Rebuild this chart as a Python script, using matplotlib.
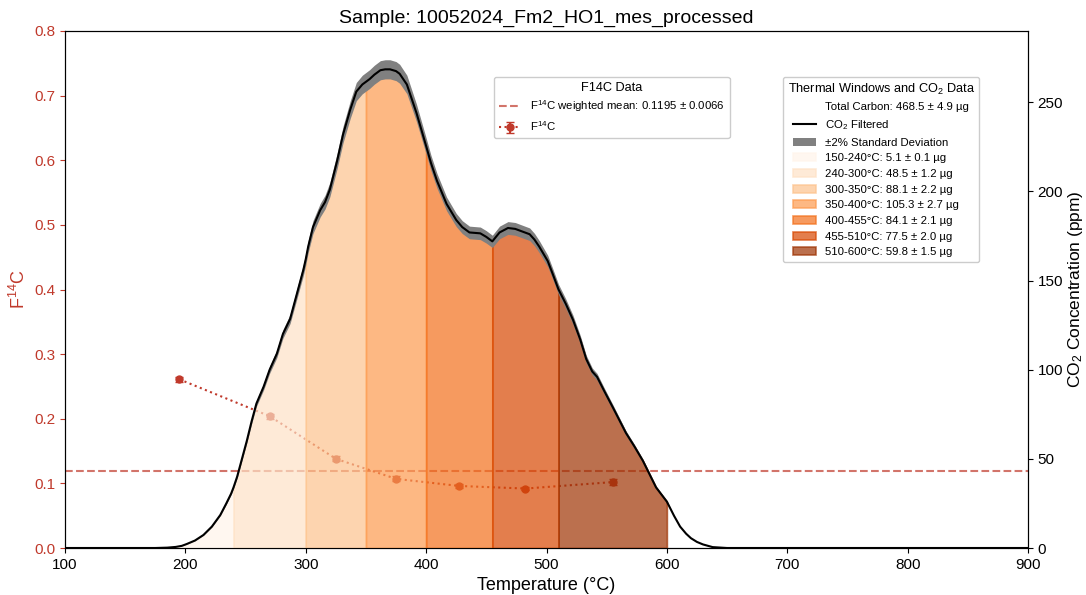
import numpy as np
import matplotlib
matplotlib.use("Agg")
import matplotlib.pyplot as plt
from matplotlib.patches import Patch
from matplotlib.lines import Line2D

plt.rcParams['font.family'] = ['Liberation Sans', 'DejaVu Sans']
plt.rcParams['mathtext.fontset'] = 'custom'
plt.rcParams['mathtext.rm'] = 'Liberation Sans'
plt.rcParams['mathtext.it'] = 'Liberation Sans:italic'
plt.rcParams['mathtext.bf'] = 'Liberation Sans:bold'

# ---- CO2 curve ----
temperature = [100, 150, 175, 185, 192, 197, 201, 208, 215, 222, 229, 234, 238, 240,
               243, 247, 251, 255, 259, 265, 270, 276, 281, 287, 292, 298, 300, 302,
               306, 312, 316, 320, 326, 331, 337, 342, 347, 350, 353, 357, 362, 366,
               370, 375, 378, 384, 392, 400, 404, 409, 417, 425, 430, 436, 445, 450,
               455, 458, 461, 468, 474, 480, 486, 490, 494, 501, 505, 510, 516, 522,
               528, 533, 538, 542, 548, 555, 566, 573, 580, 591, 600, 606, 611, 616,
               620, 625, 630, 638, 650, 700, 900]
co2_ppm = [0, 0, 0, 0.2, 0.6, 1.2, 2.2, 4.2, 7.3, 12, 18.5, 25, 30.5, 34,
           40, 50, 60, 71, 81, 90.5, 100, 109, 120, 128.5, 141, 156, 162, 169,
           180, 189.5, 194, 201, 217, 232, 246, 256, 260, 261.5, 263, 265.5, 268, 268.5,
           268.5, 267.5, 266, 260, 244, 225.5, 216, 206, 193, 184, 180, 177, 176.5, 174.5,
           172, 174.5, 177, 179.5, 179, 177.5, 176, 173, 169, 161, 154, 145, 137, 128,
           117, 106, 99, 96, 88, 79, 64.5, 57, 49, 34, 26, 18, 12, 8,
           5.5, 3.4, 2, 0.5, 0, 0, 0]
std_fraction = 0.02

# ---- thermal windows ----
window_lo = [150, 240, 300, 350, 400, 455, 510]
window_hi = [240, 300, 350, 400, 455, 510, 600]
window_mass = [5.1, 48.5, 88.1, 105.3, 84.1, 77.5, 59.8]
window_err = [0.1, 1.2, 2.2, 2.7, 2.1, 2.0, 1.5]
total_carbon = 468.5
total_carbon_err = 4.9

# ---- F14C ----
f14c_temp = [195, 270, 325, 375, 427.5, 482.5, 555]
f14c_val = [0.261, 0.204, 0.138, 0.107, 0.096, 0.092, 0.102]
f14c_err = [0.004, 0.004, 0.004, 0.004, 0.003, 0.003, 0.004]
f14c_mean = 0.1195
f14c_mean_err = 0.0066

red = '#c0392b'

T = np.array(temperature, dtype=float)
C = np.array(co2_ppm, dtype=float)

fig = plt.figure(figsize=(10.86, 5.95), dpi=100)
ax1 = fig.add_axes([65/1086, 1-548/595, (1028-65)/1086, (548-31)/595])
ax2 = ax1.twinx()

# F14C on left axis
ax1.axhline(f14c_mean, color=red, ls='--', lw=1.5, alpha=0.7)
eb = ax1.errorbar(f14c_temp, f14c_val, yerr=f14c_err, fmt='o:', color=red,
                  markersize=5, capsize=3, lw=1.5, elinewidth=1.5)
ax1.set_xlim(100, 900)
ax1.set_ylim(0, 0.8)
ax1.set_xticks(np.arange(100, 901, 100))
ax1.set_yticks(np.arange(0, 0.81, 0.1))
ax1.yaxis.set_major_formatter(matplotlib.ticker.FormatStrFormatter('%.1f'))
ax1.tick_params(axis='y', colors=red, labelsize=11)
ax1.tick_params(axis='x', labelsize=11)
ax1.set_ylabel('F$^{14}$C', color=red, fontsize=13)
ax1.set_xlabel('Temperature (°C)', fontsize=13)

# CO2 on right axis
colors = plt.cm.Oranges(np.linspace(0, 0.9, len(window_lo)))
fills = []
for lo, hi, m, e, c in zip(window_lo, window_hi, window_mass, window_err, colors):
    mask = (T >= lo) & (T <= hi)
    f = ax2.fill_between(T[mask], 0, C[mask], facecolor=c, alpha=0.7, edgecolor=c,
                         lw=1.2, label=f'{lo}-{hi}°C: {m} ± {e} µg', zorder=1)
    fills.append(f)
ax2.fill_between(T, C*(1-std_fraction), C*(1+std_fraction), color='gray', lw=0, zorder=2)
ax2.plot(T, C, color='black', lw=1.5, zorder=3, solid_joinstyle='round')
ax2.set_ylim(0, 290)
ax2.set_yticks(np.arange(0, 251, 50))
ax2.tick_params(axis='y', labelsize=11)
ax2.set_ylabel('CO$_2$ Concentration (ppm)', fontsize=12.5, labelpad=2)

ax1.set_title('Sample: 10052024_Fm2_HO1_mes_processed', fontsize=14)

# legends
h_mean = Line2D([], [], color=red, ls='--', lw=1.5, alpha=0.7)
leg1 = ax2.legend([h_mean, eb],
                  [f'F$^{{14}}$C weighted mean: {f14c_mean:.4f} ± {f14c_mean_err:.4f}', 'F$^{14}$C'],
                  title='F14C Data', loc='upper left',
                  bbox_to_anchor=((494-65)/963, 1-(77-31)/517), borderaxespad=0,
                  fontsize=8.2, title_fontsize=9.2, framealpha=1, labelspacing=0.45)
ax2.add_artist(leg1)

h_total = Line2D([], [], color='none')
h_line = Line2D([], [], color='black', lw=1.5)
h_std = Patch(facecolor='gray')
labels2 = [f'Total Carbon: {total_carbon} ± {total_carbon_err} µg', 'CO$_2$ Filtered',
           '±2% Standard Deviation'] + [f.get_label() for f in fills]
leg2 = ax2.legend([h_total, h_line, h_std] + fills, labels2,
                  title='Thermal Windows and CO$_2$ Data', loc='upper left',
                  bbox_to_anchor=((783-65)/963, 1-(77-31)/517), borderaxespad=0,
                  fontsize=8.2, title_fontsize=9.2, framealpha=1, labelspacing=0.5)

fig.savefig('out.png', dpi=100)
